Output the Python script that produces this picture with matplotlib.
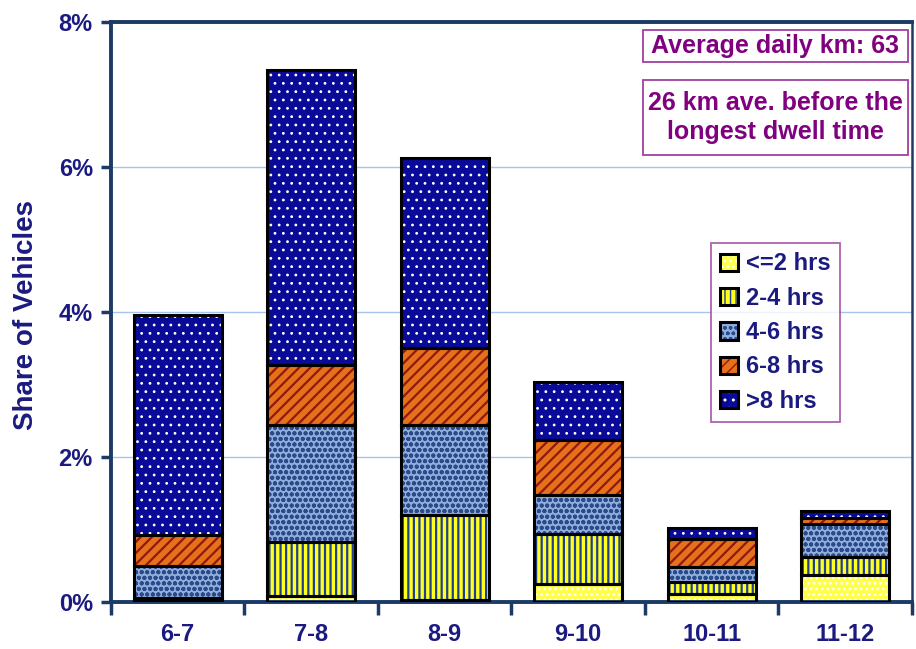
import matplotlib
matplotlib.use("Agg")
import matplotlib.pyplot as plt
from matplotlib.patches import Patch, Rectangle
from matplotlib.legend_handler import HandlerTuple
from matplotlib.ticker import FuncFormatter, FixedLocator
import numpy as np

plt.rcParams['font.family'] = ['Liberation Sans', 'DejaVu Sans']
plt.rcParams['font.weight'] = 'bold'

# hour of departure vs. share of vehicles, split by longest dwell time
hours = ['6-7', '7-8', '8-9', '9-10', '10-11', '11-12']
dwell_le2 = [0.02, 0.08, 0.03, 0.25, 0.11, 0.37]
dwell_2_4 = [0.03, 0.75, 1.17, 0.69, 0.17, 0.25]
dwell_4_6 = [0.45, 1.61, 1.24, 0.54, 0.20, 0.46]
dwell_6_8 = [0.42, 0.83, 1.06, 0.75, 0.39, 0.08]
dwell_gt8 = [3.04, 4.07, 2.62, 0.80, 0.15, 0.10]
labels = ['<=2 hrs', '2-4 hrs', '4-6 hrs', '6-8 hrs', '>8 hrs']

NAVY_TXT = '#1A1A80'
SPINE = '#1B3A66'
PURPLE = '#800080'

# (face, hatch colour, hatch, hatch linewidth)
styles = [
    ('#FFFF4A', '#FFFFFF', '...', 1.2),
    ('#FFFF20', '#1F3F8F', '|||', 1.6),
    ('#8FAEDC', '#2A4A8A', 'ooo', 1.3),
    ('#E8701A', '#8B1A10', '///', 1.6),
    ('#0A0A98', '#FFFFFF', '..', 0.8),
]
series = [dwell_le2, dwell_2_4, dwell_4_6, dwell_6_8, dwell_gt8]

fig = plt.figure(figsize=(9.16, 6.49), dpi=100)
ax = fig.add_axes([0.121, 0.0724, 0.8746, 0.8936])

x = np.arange(len(hours)) + 0.5
width = 0.66
bottom = np.zeros(len(hours))
handles = []
for vals, (fc, hc, hatch, hlw) in zip(series, styles):
    vals = np.array(vals)
    bars = ax.bar(x, vals, width, bottom=bottom, color=fc, edgecolor=hc,
                  hatch=hatch, linewidth=0, zorder=2)
    for b in bars:
        if hasattr(b, 'set_hatch_linewidth'):
            b.set_hatch_linewidth(hlw)
    ax.bar(x, vals, width, bottom=bottom, fill=False, edgecolor='black',
           linewidth=2.2, zorder=3)
    bottom += vals
    face = Patch(facecolor=fc, edgecolor=hc, hatch=hatch, linewidth=0)
    if hasattr(face, 'set_hatch_linewidth'):
        face.set_hatch_linewidth(hlw)
    handles.append((face, Patch(fill=False, edgecolor='black', linewidth=2.2)))

ax.set_xlim(0, len(hours))
ax.set_ylim(0, 8)

# y axis
ax.set_yticks([0, 2, 4, 6, 8])
ax.yaxis.set_major_formatter(FuncFormatter(lambda v, p: f'{v:.0f}%'))
ax.tick_params(axis='y', length=7, width=2.5, color=SPINE, labelsize=17,
               labelcolor=NAVY_TXT, pad=6)
ax.set_ylabel('Share of Vehicles', fontsize=20, color=NAVY_TXT,
              fontweight='bold')
ax.yaxis.set_label_coords(-0.09, 0.495)

# x axis: ticks at bin edges, labels centred
ax.xaxis.set_major_locator(FixedLocator(np.arange(len(hours) + 1)))
ax.xaxis.set_major_formatter(FuncFormatter(lambda v, p: ''))
ax.xaxis.set_minor_locator(FixedLocator(x))
ax.set_xticklabels(hours, minor=True)
ax.tick_params(axis='x', which='major', length=9, width=2.5, color=SPINE,
               direction='out')
ax.tick_params(axis='x', which='minor', length=0, labelsize=17,
               labelcolor=NAVY_TXT, pad=15)

ax.yaxis.grid(True, color='#A8C4EE', linewidth=1.0, zorder=0)
ax.set_axisbelow(True)

for side in ['left', 'bottom', 'top']:
    ax.spines[side].set_color(SPINE)
    ax.spines[side].set_linewidth(2.8)
ax.spines['right'].set_color(SPINE)
ax.spines['right'].set_linewidth(1.8)

leg = ax.legend(handles, labels, handler_map={tuple: HandlerTuple(ndivide=1)},
                loc='upper left', bbox_to_anchor=(0.749, 0.619),
                fontsize=17, frameon=True, fancybox=False,
                handlelength=0.75, handleheight=0.75, handletextpad=0.35,
                labelspacing=0.48, borderpad=0.4, borderaxespad=0)
leg.get_frame().set_edgecolor('#9A3C9A')
leg.get_frame().set_linewidth(1.3)
for t in leg.get_texts():
    t.set_color(NAVY_TXT)
    t.set_fontweight('bold')

# annotation boxes
for (y0, h) in [(0.931, 0.055), (0.771, 0.129)]:
    ax.add_patch(Rectangle((0.664, y0), 0.331, h, transform=ax.transAxes,
                           facecolor='white', edgecolor='#A040A0',
                           linewidth=1.3, zorder=5))
ax.text(0.8295, 0.9585, 'Average daily km: 63', transform=ax.transAxes,
        ha='center', va='center', fontsize=18, color=PURPLE,
        fontweight='bold', zorder=6)
ax.text(0.8295, 0.8355, '26 km ave. before the\nlongest dwell time',
        transform=ax.transAxes, ha='center', va='center', fontsize=18,
        color=PURPLE, fontweight='bold', linespacing=1.3, zorder=6)

fig.savefig('out.png', dpi=100)
